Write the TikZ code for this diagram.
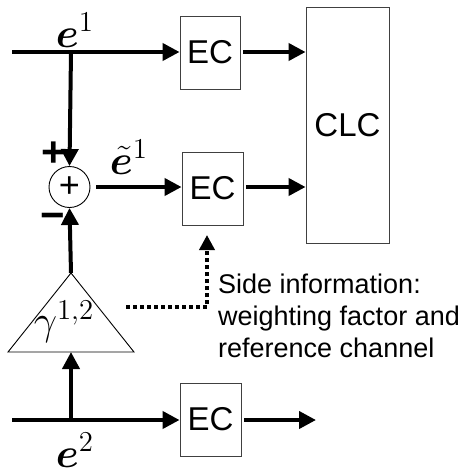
\documentclass[tikz,border=0pt]{standalone}
\usepackage{amsmath}
\usepackage{bm}
\usepackage{fontspec}
\setmainfont{Liberation Sans}
\usetikzlibrary{arrows.meta,calc}
\begin{document}
\begin{tikzpicture}[x=1pt,y=-1pt,
  blk/.style={draw=black!75,line width=0.9pt,inner sep=0pt,font=\fontsize{33}{33}\selectfont},
  sig/.style={line width=4pt,-{Triangle[length=17pt,width=17pt]}},
  plain/.style={line width=4pt},
  side/.style={line width=3.6pt,dash pattern=on 4pt off 3pt,-{Triangle[length=15pt,width=15pt]}},
  mlab/.style={font=\fontsize{20}{20}\selectfont,scale=2,inner sep=0pt},
  pmlab/.style={font=\fontsize{42}{42}\selectfont\bfseries,inner sep=0pt}]
\useasboundingbox (0,0) rectangle (462,471);

% coding blocks
\node[blk,minimum width=60pt,minimum height=73pt] (ec1) at (210,52.5) {EC};
\node[blk,minimum width=61pt,minimum height=73pt] (ec2) at (212.5,188.5) {EC};
\node[blk,minimum width=61pt,minimum height=73pt] (ec3) at (210.5,419.5) {EC};
\node[blk,minimum width=83pt,minimum height=236pt] (clc) at (347.5,125) {CLC};

% summation point
\node[draw,circle,line width=0.9pt,minimum size=41pt,inner sep=0pt,
      font=\fontsize{36}{36}\selectfont] (sum) at (69.5,187) {+};

% weighting triangle
\coordinate (apex) at (71,273);
\coordinate (base) at (71,352);
\draw[line width=0.9pt] (8,352) -- (apex) -- (134,352) -- cycle;
\node[mlab] (gam) at (64,322) {$\gamma^{1,2}$};

% inputs
\coordinate (in1) at (12,52);
\coordinate (in2) at (12,420);
\coordinate (j1) at (71,52);
\coordinate (j2) at (71,420);
\coordinate (out3) at (316,420);

\draw[sig] (in1) -- (ec1.west |- in1);
\draw[sig] (j1) -- (sum.north);
\draw[sig,shorten <=6pt] (sum.east) -- (ec2.west |- sum.east);
\draw[sig,shorten <=3pt] (ec1.east |- in1) -- (clc.west |- in1);
\draw[sig,shorten <=3pt] (ec2.east |- sum.east) -- (clc.west |- sum.east);
\draw[sig] (apex) -- (sum.south);
\draw[plain] (apex) -- ++(0,-1);
\draw[sig] (j2) -- (base);
\draw[sig] (in2) -- (ec3.west |- in2);
\draw[sig,shorten <=3pt] (ec3.east |- in2) -- (out3);

% side information path
\coordinate (s0) at (126,307);
\coordinate (s1) at (207,307);
\coordinate (s2) at (207,235);
\draw[side] (s0) -- (s1) -- (s2);

% labels
\node[mlab,anchor=base] (e1) at (75,47) {$\bm{e}^1$};
\node[mlab,anchor=base] (et1) at (129,174) {$\tilde{\bm{e}}^1$};
\node[mlab,anchor=base] (e2) at (75,467) {$\bm{e}^2$};
\node[pmlab] (plus) at (54,154) {+};
\node[pmlab] (minus) at (53,221) {\textminus};

\node[anchor=base west,align=left,inner sep=0pt,
      font=\fontsize{27}{32}\selectfont] (info) at (218,357)
  {Side information:\\weighting factor and\\reference channel};
\end{tikzpicture}
\end{document}
